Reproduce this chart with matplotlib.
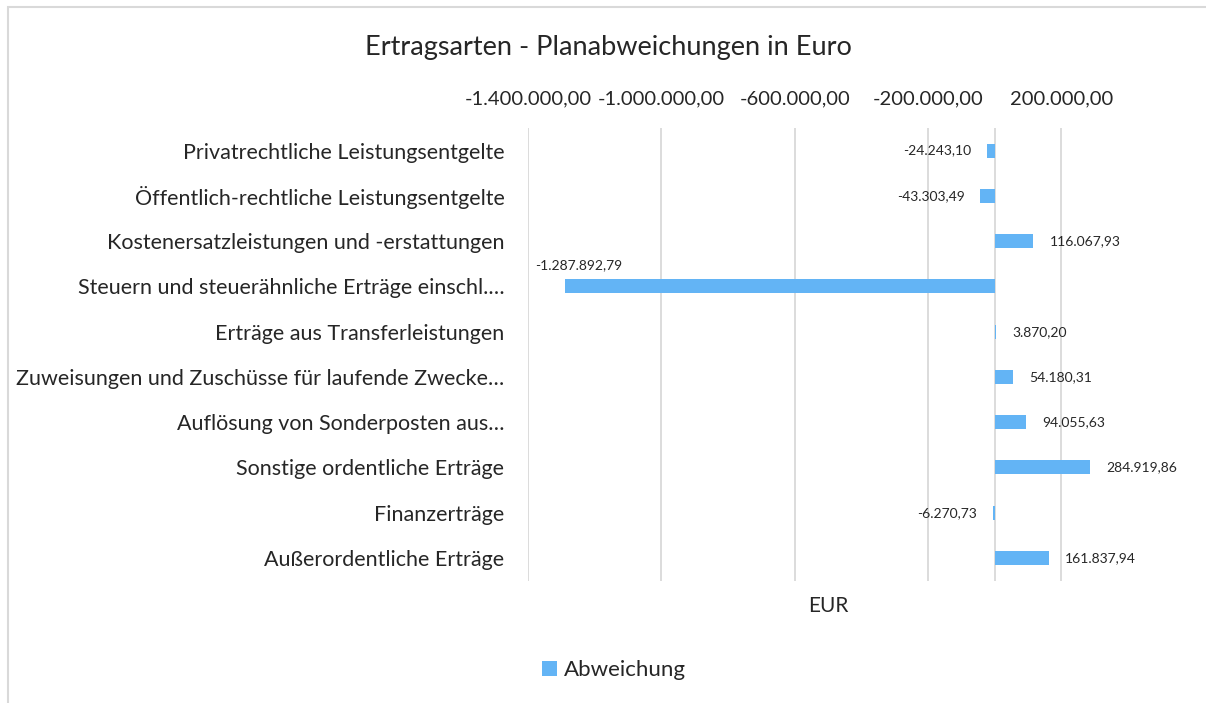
import matplotlib.pyplot as plt
from matplotlib.patches import Rectangle, Patch

# Data (top to bottom as in chart)
categories = ['Privatrechtliche Leistungsentgelte',
              'Öffentlich-rechtliche Leistungsentgelte',
              'Kostenersatzleistungen und -erstattungen',
              'Steuern und steuerähnliche Erträge einschl.…',
              'Erträge aus Transferleistungen',
              'Zuweisungen und Zuschüsse für laufende Zwecke…',
              'Auflösung von Sonderposten aus…',
              'Sonstige ordentliche Erträge',
              'Finanzerträge',
              'Außerordentliche Erträge']
abweichung = [-24243.10, -43303.49, 116067.93, -1287892.79, 3870.20,
              54180.31, 94055.63, 284919.86, -6270.73, 161837.94]
tick_values = [-1400000, -1000000, -600000, -200000, 200000]

def de_fmt(v):
    s = f"{v:,.2f}"
    return s.replace(',', 'X').replace('.', ',').replace('X', '.')

plt.rcParams['font.family'] = ['Lato', 'DejaVu Sans']
bar_color = '#63B4F5'
grid_color = '#D9D9D9'
txt = '#262626'

fig = plt.figure(figsize=(12.06, 7.03), dpi=100)
ax = fig.add_axes([0.4378, 0.1741, 0.4975, 0.6438])

y = list(range(len(categories)))
ax.barh(y, abweichung, height=0.31, color=bar_color, zorder=3)
ax.set_ylim(len(categories) - 0.5, -0.5)
ax.set_xlim(-1400000, 400000)

ax.set_yticks(y)
ax.set_yticklabels(categories, fontsize=15.5, color=txt)
ax.tick_params(axis='y', length=0, pad=17)

ax.xaxis.tick_top()
ax.set_xticks(tick_values)
ax.set_xticklabels([de_fmt(v) for v in tick_values], fontsize=14.5, color=txt)
ax.tick_params(axis='x', length=0, pad=15)

for v in tick_values:
    ax.axvline(v, color=grid_color, lw=1.3, zorder=1)
ax.axvline(0, color=grid_color, lw=1.3, zorder=2)

for s in ax.spines.values():
    s.set_visible(False)

# data labels
for i, v in enumerate(abweichung):
    if v < -1000000:
        ax.annotate(de_fmt(v), xy=(v, i), xytext=(-22, 15), textcoords='offset points',
                    ha='left', va='center', fontsize=10, color=txt)
    elif v < 0:
        ax.annotate(de_fmt(v), xy=(v, i), xytext=(-11, 0), textcoords='offset points',
                    ha='right', va='center', fontsize=10, color=txt)
    else:
        ax.annotate(de_fmt(v), xy=(v, i), xytext=(12, 0), textcoords='offset points',
                    ha='left', va='center', fontsize=10, color=txt)

ax.text(0.5, -0.055, 'EUR', transform=ax.transAxes, ha='center', va='center',
        fontsize=15, color=txt)

fig.text(608 / 1206, 1 - 47 / 703, 'Ertragsarten - Planabweichungen in Euro',
         ha='center', va='center', fontsize=19.5, color=txt)

handle = Patch(facecolor=bar_color, edgecolor='none')
fig.legend([handle], ['Abweichung'], loc='center', bbox_to_anchor=(614 / 1206, 1 - 670 / 703),
           frameon=False, fontsize=16, handlelength=0.65, handleheight=0.65,
           handletextpad=0.3, labelcolor=txt)

# chart border (left and top visible)
fig.patches.append(Rectangle((8 / 1206, -0.1), 1.2, 1 - 7 / 703 + 0.1,
                             transform=fig.transFigure, fill=False,
                             edgecolor=grid_color, lw=1.5))

fig.savefig('out.png', dpi=100, facecolor='white')
